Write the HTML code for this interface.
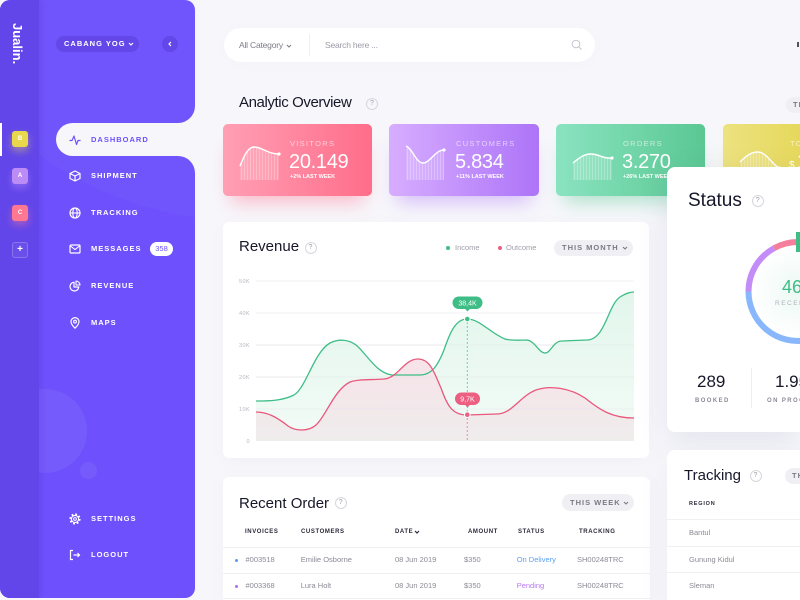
<!DOCTYPE html>
<html><head><meta charset="utf-8">
<style>
*{margin:0;padding:0;box-sizing:border-box}
html,body{width:800px;height:600px;overflow:hidden}
body{position:relative;background:#f7f7fb;font-family:"Liberation Sans",sans-serif;}
#root{position:absolute;left:0;top:0;width:800px;height:600px;overflow:hidden;background:#f7f7fb}
.a{position:absolute}
.t{position:absolute;white-space:nowrap;line-height:1}
.m{position:absolute;white-space:nowrap;line-height:1;font-size:7.5px;font-weight:bold;letter-spacing:1px;color:#fff;left:91px}
.q{position:absolute;width:12px;height:12px;border:1px solid #d6d6de;border-radius:50%;font-size:7px;color:#9a9aa6;text-align:center;line-height:10px}
.card{position:absolute;top:124px;height:72px;border-radius:5px}
.lbl{position:absolute;left:67px;top:16px;font-size:7.5px;letter-spacing:1.3px;color:rgba(255,255,255,0.62);white-space:nowrap;line-height:1}
.val{position:absolute;left:66px;top:28px;font-size:20px;color:#fff;white-space:nowrap;line-height:1;letter-spacing:-0.3px}
.sub{position:absolute;left:67px;top:51px;font-size:5.5px;font-weight:bold;color:#fff;white-space:nowrap;line-height:1}
.mini{position:absolute;left:15px;top:14px}
.th{position:absolute;font-size:6px;font-weight:bold;letter-spacing:0.6px;color:#2a2a3a;white-space:nowrap;line-height:1;top:529px}
.td{position:absolute;font-size:7.5px;color:#8a8a96;white-space:nowrap;line-height:1}
.pill{position:absolute;height:17px;border-radius:9px;background:#f0f0f4;font-size:7.5px;font-weight:bold;letter-spacing:1px;color:#7a7a86;line-height:17px;white-space:nowrap}
.h{position:absolute;white-space:nowrap;line-height:1;font-size:15px;color:#17172a}
.sq{position:absolute;left:12px;width:16px;height:16px;border-radius:3px;color:#fff;font-size:6px;font-weight:bold;text-align:center;line-height:16px}
</style></head><body>
<div id="root">

<svg width="0" height="0" style="position:absolute">
<defs>
<pattern id="st" width="3" height="4" patternUnits="userSpaceOnUse"><rect width="1" height="4" fill="rgba(255,255,255,0.25)"/></pattern>
</defs>
</svg>

<!-- SIDEBAR -->
<div class="a" style="left:0;top:0;width:195px;height:598px;border-radius:10px;background:#6e51fc;overflow:hidden">
  <div class="a" style="left:160px;top:100px;width:40px;height:80px;background:#f7f7fb"></div>
  <div class="a" style="left:100px;top:40px;width:95px;height:83px;background:#6e51fc;border-bottom-right-radius:17px"></div>
  <div class="a" style="left:100px;top:156px;width:95px;height:80px;background:#6e51fc;border-top-right-radius:17px"></div>
  <div class="a" style="left:-100px;top:-460px;width:680px;height:680px;border-radius:50%;background:rgba(255,255,255,0.022)"></div>
  <div class="a" style="left:3px;top:389px;width:84px;height:84px;border-radius:50%;background:rgba(255,255,255,0.06)"></div>
  <div class="a" style="left:80px;top:462px;width:17px;height:17px;border-radius:50%;background:rgba(255,255,255,0.06)"></div>
  <div class="a" style="left:56px;top:123px;width:139px;height:33px;border-radius:16.5px 0 0 16.5px;background:#f7f7fb"></div>
  <div class="a" style="left:0;top:0;width:39px;height:598px;background:#6246ea;box-shadow:2px 0 6px rgba(40,20,140,0.12)"></div>
  <div class="a" style="left:0;top:123px;width:2px;height:33px;background:#fff"></div>
</div>

<div class="t" style="left:11px;top:23px;writing-mode:vertical-rl;font-size:13px;font-weight:bold;color:#fff;line-height:13px">Jualin.</div>

<div class="sq" style="top:131px;background:#e9d84c;box-shadow:0 4px 8px rgba(233,216,76,0.45)">B</div>
<div class="sq" style="top:168px;background:#bc8cf6;box-shadow:0 4px 8px rgba(188,140,246,0.45)">A</div>
<div class="sq" style="top:205px;background:#ff7892;box-shadow:0 4px 8px rgba(255,120,146,0.45)">C</div>
<div class="sq" style="top:242px;border:1px solid rgba(255,255,255,0.22);background:rgba(255,255,255,0.05);font-size:10px;line-height:14px">+</div>

<div class="a" style="left:56px;top:36px;width:83px;height:16px;border-radius:8px;background:#6347e9"></div>
<div class="m" style="left:64px;top:40.3px">CABANG YOG</div>
<svg class="a" style="left:128px;top:41px" width="6" height="6"><polyline points="1,2 3,4 5,2" fill="none" stroke="#fff" stroke-width="1.1"/></svg>
<div class="a" style="left:162px;top:36px;width:16px;height:16px;border-radius:50%;background:#6347e9"></div>
<svg class="a" style="left:167px;top:41px" width="6" height="6"><polyline points="4,1 2,3 4,5" fill="none" stroke="#fff" stroke-width="1.1"/></svg>

<!-- menu icons -->
<svg class="a" style="left:69px;top:133.5px" width="12" height="12"><polyline points="0.5,6.5 3,6.5 5,2 7.5,10.5 9,6.5 11.5,6.5" fill="none" stroke="#6e51fc" stroke-width="1.2" stroke-linejoin="round"/></svg>
<div class="m" style="top:135.8px;color:#6e51fc">DASHBOARD</div>

<svg class="a" style="left:69px;top:170px" width="12" height="12"><path d="M6,1 L11,3.5 L11,8.5 L6,11 L1,8.5 L1,3.5Z M1,3.5 L6,6 L11,3.5 M6,6 L6,11" fill="none" stroke="#fff" stroke-width="1.2" stroke-linejoin="round"/></svg>
<div class="m" style="top:172.3px">SHIPMENT</div>

<svg class="a" style="left:69px;top:206.5px" width="12" height="12"><circle cx="6" cy="6" r="5" fill="none" stroke="#fff" stroke-width="1.2"/><ellipse cx="6" cy="6" rx="2.2" ry="5" fill="none" stroke="#fff" stroke-width="1.1"/><line x1="1" y1="6" x2="11" y2="6" stroke="#fff" stroke-width="1.1"/></svg>
<div class="m" style="top:208.8px">TRACKING</div>

<svg class="a" style="left:69px;top:243px" width="12" height="12"><rect x="1" y="2" width="10" height="8" rx="1" fill="none" stroke="#fff" stroke-width="1.2"/><polyline points="1.5,3 6,6.5 10.5,3" fill="none" stroke="#fff" stroke-width="1.1"/></svg>
<div class="m" style="top:245.3px">MESSAGES</div>
<div class="a" style="left:150px;top:242px;width:23px;height:14px;border-radius:7px;background:#fff;color:#6e51fc;font-size:7.5px;text-align:center;line-height:14px">358</div>

<svg class="a" style="left:69px;top:280px" width="12" height="12"><path d="M5,2.2 A4.4,4.4 0 1 0 9.8,7 L5,7Z" fill="none" stroke="#fff" stroke-width="1.2" stroke-linejoin="round"/><path d="M7,1 A4.2,4.2 0 0 1 11,5 L7,5Z" fill="none" stroke="#fff" stroke-width="1.1" stroke-linejoin="round"/></svg>
<div class="m" style="top:282.3px">REVENUE</div>

<svg class="a" style="left:69px;top:316.5px" width="12" height="12"><path d="M6,11.2 C6,11.2 2,7.2 2,4.6 A4,4 0 0 1 10,4.6 C10,7.2 6,11.2 6,11.2Z" fill="none" stroke="#fff" stroke-width="1.2"/><circle cx="6" cy="4.6" r="1.4" fill="none" stroke="#fff" stroke-width="1.1"/></svg>
<div class="m" style="top:318.8px">MAPS</div>

<svg class="a" style="left:69px;top:512.5px" width="12" height="12"><circle cx="6" cy="6" r="4.7" fill="none" stroke="#fff" stroke-width="1.8" stroke-dasharray="1.8 1.9"/><circle cx="6" cy="6" r="3.6" fill="none" stroke="#fff" stroke-width="1.1"/><circle cx="6" cy="6" r="1.4" fill="none" stroke="#fff" stroke-width="1"/></svg>
<div class="m" style="top:514.8px">SETTINGS</div>

<svg class="a" style="left:69px;top:549px" width="12" height="12"><path d="M4,1.5 L1.5,1.5 L1.5,10.5 L4,10.5" fill="none" stroke="#fff" stroke-width="1.2"/><path d="M4.5,6 L10.5,6 M8.5,4 L10.5,6 L8.5,8" fill="none" stroke="#fff" stroke-width="1.2"/></svg>
<div class="m" style="top:551.3px">LOGOUT</div>

<!-- SEARCH -->
<div class="a" style="left:224px;top:28px;width:371px;height:34px;border-radius:17px;background:#fff;box-shadow:0 2px 10px rgba(120,120,170,0.04)"></div>
<div class="t" style="left:239px;top:41px;font-size:8.5px;color:#7c7c88;letter-spacing:-0.2px">All Category</div>
<svg class="a" style="left:286px;top:42.5px" width="6" height="6"><polyline points="1,2 3,4 5,2" fill="none" stroke="#7c7c88" stroke-width="1"/></svg>
<div class="a" style="left:309px;top:34px;width:1px;height:22px;background:#efeff3"></div>
<div class="t" style="left:325px;top:41px;font-size:8.5px;color:#9a9aa6;letter-spacing:-0.2px">Search here ...</div>
<svg class="a" style="left:571px;top:39px" width="12" height="12"><circle cx="5" cy="5" r="3.8" fill="none" stroke="#c4c4cc" stroke-width="1"/><line x1="7.8" y1="7.8" x2="10.5" y2="10.5" stroke="#c4c4cc" stroke-width="1"/></svg>
<div class="a" style="left:797px;top:42px;width:2px;height:5px;background:#555"></div>

<!-- ANALYTIC OVERVIEW -->
<div class="h" style="left:239px;top:95px;letter-spacing:-0.4px">Analytic Overview</div>
<div class="q" style="left:366px;top:98px">?</div>
<div class="pill" style="left:786px;top:97px;width:14px;height:16px;line-height:16px;padding-left:7px;border-radius:8px 0 0 8px;overflow:hidden">THIS</div>

<div class="card" style="left:223px;width:149px;background:linear-gradient(90deg,#ff9fb4,#ff6d8a);box-shadow:0 14px 18px -8px rgba(255,109,138,0.45)">
  <svg class="mini" width="44" height="44"><path d="M2,28 C6,18 10,9 16,9 C24,9 30,16 41,16 L41,42 L2,42Z" fill="rgba(255,255,255,0.15)"/><path d="M2,28 C6,18 10,9 16,9 C24,9 30,16 41,16 L41,42 L2,42Z" fill="url(#st)"/><path d="M2,28 C6,18 10,9 16,9 C24,9 30,16 41,16" fill="none" stroke="#fff" stroke-width="1.4"/><circle cx="41" cy="16" r="1.6" fill="#fff"/></svg>
  <div class="lbl">VISITORS</div>
  <div class="val">20.149</div>
  <div class="sub">+2% LAST WEEK</div>
</div>
<div class="card" style="left:389px;width:150px;background:linear-gradient(90deg,#d7adff,#ad74f8);box-shadow:0 14px 18px -8px rgba(173,116,248,0.45)">
  <svg class="mini" width="44" height="44"><path d="M2,8 C8,10 12,25 19,25 C26,25 31,12 40,12 L40,42 L2,42Z" fill="rgba(255,255,255,0.15)"/><path d="M2,8 C8,10 12,25 19,25 C26,25 31,12 40,12 L40,42 L2,42Z" fill="url(#st)"/><path d="M2,8 C8,10 12,25 19,25 C26,25 31,12 40,12" fill="none" stroke="#fff" stroke-width="1.4"/><circle cx="40" cy="12" r="1.6" fill="#fff"/></svg>
  <div class="lbl">CUSTOMERS</div>
  <div class="val">5.834</div>
  <div class="sub">+11% LAST WEEK</div>
</div>
<div class="card" style="left:556px;width:149px;background:linear-gradient(90deg,#8ae3c0,#5ac893);box-shadow:0 14px 18px -8px rgba(90,200,147,0.45)">
  <svg class="mini" width="44" height="44"><path d="M2,25 C8,20 13,16 20,16 C28,16 32,21 41,20 L41,42 L2,42Z" fill="rgba(255,255,255,0.15)"/><path d="M2,25 C8,20 13,16 20,16 C28,16 32,21 41,20 L41,42 L2,42Z" fill="url(#st)"/><path d="M2,25 C8,20 13,16 20,16 C28,16 32,21 41,20" fill="none" stroke="#fff" stroke-width="1.4"/><circle cx="41" cy="20" r="1.6" fill="#fff"/></svg>
  <div class="lbl">ORDERS</div>
  <div class="val">3.270</div>
  <div class="sub">+26% LAST WEEK</div>
</div>
<div class="card" style="left:723px;width:77px;border-radius:5px 0 0 5px;overflow:hidden;background:linear-gradient(90deg,#ece27f,#e6d85c);box-shadow:0 14px 18px -8px rgba(226,208,74,0.45)">
  <svg class="mini" width="44" height="44"><path d="M2,24 C8,18 13,14 20,14 C28,14 34,26 41,30 L41,42 L2,42Z" fill="rgba(255,255,255,0.15)"/><path d="M2,24 C8,18 13,14 20,14 C28,14 34,26 41,30 L41,42 L2,42Z" fill="url(#st)"/><path d="M2,24 C8,18 13,14 20,14 C28,14 34,26 41,30" fill="none" stroke="#fff" stroke-width="1.4"/><circle cx="41" cy="30" r="1.6" fill="#fff"/></svg>
  <div class="lbl">TOTAL</div>
  <div class="val"><span style="font-size:10px">$ </span>12.5K</div>
</div>

<!-- REVENUE CARD -->
<div class="a" style="left:223px;top:222px;width:426px;height:236px;border-radius:6px;background:#fff;box-shadow:0 4px 16px rgba(100,100,150,0.05)"></div>
<div class="h" style="left:239px;top:239px">Revenue</div>
<div class="q" style="left:304.5px;top:241.5px">?</div>
<div class="a" style="left:446px;top:246px;width:4px;height:4px;border-radius:50%;background:#3ebd86"></div>
<div class="t" style="left:455px;top:244.3px;font-size:7.5px;color:#a0a0aa">Income</div>
<div class="a" style="left:497.5px;top:246px;width:4px;height:4px;border-radius:50%;background:#ec5f80"></div>
<div class="t" style="left:506px;top:244.3px;font-size:7.5px;color:#a0a0aa">Outcome</div>
<div class="pill" style="left:554px;top:240px;width:79px;height:16px;line-height:16px;padding-left:8px">THIS MONTH</div>
<svg class="a" style="left:622px;top:245px" width="6" height="6"><polyline points="1,2 3,4 5,2" fill="none" stroke="#7a7a86" stroke-width="1.1"/></svg>

<svg class="a" style="left:0;top:0" width="800" height="600">
<defs>
<linearGradient id="gi" x1="0" y1="0" x2="0" y2="1"><stop offset="0" stop-color="#e2f6ec"/><stop offset="1" stop-color="#f3fbf7"/></linearGradient>
<linearGradient id="go" x1="0" y1="0" x2="0" y2="1"><stop offset="0" stop-color="#f7e3e9"/><stop offset="1" stop-color="#efecec"/></linearGradient>
</defs>
<g stroke="#f0f0f4" stroke-width="1">
<line x1="256" y1="281" x2="634" y2="281"/>
<line x1="256" y1="313" x2="634" y2="313"/>
<line x1="256" y1="345" x2="634" y2="345"/>
<line x1="256" y1="377" x2="634" y2="377"/>
<line x1="256" y1="409" x2="634" y2="409"/>
</g>
<g font-family="Liberation Sans" font-size="5.5" fill="#b8b8c2" text-anchor="end" letter-spacing="0.4">
<text x="250" y="283">50K</text><text x="250" y="315">40K</text><text x="250" y="347">30K</text><text x="250" y="379">20K</text><text x="250" y="411">10K</text><text x="250" y="443">0</text>
</g>
<path d="M256,401 C268,401 282,401 294,395 C306,388 314,352 330,343 C338,339 348,339 356,345 C366,353 376,373 392,375 L420,375 C432,375 438,365 444,350 C450,332 456,319 467,319 C480,319 490,333 505,339 C512,341 520,340 527,340 C535,341 539,353 545,353 C551,353 553,341 562,341 L587,340 C605,340 608,305 620,297 C625,294 629,292 634,292 L634,441 L256,441Z" fill="url(#gi)"/>
<path d="M256,412 C268,412 278,418 288,426 C295,431 308,432 316,425 C326,416 334,390 350,382 C358,379 370,380 384,379 C398,378 404,359 418,359 C430,359 434,372 441,388 C447,405 452,415 467,415 L497,414 C512,414 520,396 536,390 C550,385 570,388 585,398 C600,410 612,418 634,418 L634,441 L256,441Z" fill="url(#go)"/>
<g stroke="rgba(220,220,228,0.35)" stroke-width="1">
<line x1="256" y1="345" x2="634" y2="345"/><line x1="256" y1="377" x2="634" y2="377"/><line x1="256" y1="409" x2="634" y2="409"/>
</g>
<line x1="467.3" y1="322" x2="467.3" y2="412" stroke="#72d1a6" stroke-width="1" stroke-dasharray="2 2"/>
<line x1="467.3" y1="418" x2="467.3" y2="442" stroke="#f08aa3" stroke-width="1" stroke-dasharray="2 2"/>
<path d="M256,401 C268,401 282,401 294,395 C306,388 314,352 330,343 C338,339 348,339 356,345 C366,353 376,373 392,375 L420,375 C432,375 438,365 444,350 C450,332 456,319 467,319 C480,319 490,333 505,339 C512,341 520,340 527,340 C535,341 539,353 545,353 C551,353 553,341 562,341 L587,340 C605,340 608,305 620,297 C625,294 629,292 634,292" fill="none" stroke="#3ebd86" stroke-width="1.3"/>
<path d="M256,412 C268,412 278,418 288,426 C295,431 308,432 316,425 C326,416 334,390 350,382 C358,379 370,380 384,379 C398,378 404,359 418,359 C430,359 434,372 441,388 C447,405 452,415 467,415 L497,414 C512,414 520,396 536,390 C550,385 570,388 585,398 C600,410 612,418 634,418" fill="none" stroke="#e9587c" stroke-width="1.3"/>
<circle cx="467.3" cy="319" r="2.8" fill="#3ebd86" stroke="#fff" stroke-width="1"/>
<circle cx="467.3" cy="414.7" r="2.8" fill="#ec5f80" stroke="#fff" stroke-width="1"/>
<rect x="452.5" y="296.5" width="30" height="12.5" rx="6.2" fill="#3ebd86"/>
<path d="M465,308.8 L467.5,311.5 L470,308.8Z" fill="#3ebd86"/>
<text x="467.5" y="305.5" font-family="Liberation Sans" font-size="7" fill="#fff" text-anchor="middle">38,4K</text>
<rect x="455" y="392.5" width="25" height="12.5" rx="6.2" fill="#ec5f80"/>
<path d="M465,404.8 L467.5,407.5 L470,404.8Z" fill="#ec5f80"/>
<text x="467.5" y="401.5" font-family="Liberation Sans" font-size="7" fill="#fff" text-anchor="middle">9,7K</text>
</svg>

<!-- RECENT ORDER -->
<div class="a" style="left:223px;top:477px;width:427px;height:123px;border-radius:6px 6px 0 0;background:#fff;box-shadow:0 4px 16px rgba(100,100,150,0.05)"></div>
<div class="h" style="left:239px;top:496px">Recent Order</div>
<div class="q" style="left:334.7px;top:497.3px">?</div>
<div class="pill" style="left:562px;top:494px;width:72px;padding-left:8px">THIS WEEK</div>
<svg class="a" style="left:623px;top:499.5px" width="6" height="6"><polyline points="1,2 3,4 5,2" fill="none" stroke="#7a7a86" stroke-width="1.1"/></svg>
<div class="th" style="left:245px">INVOICES</div>
<div class="th" style="left:301px">CUSTOMERS</div>
<div class="th" style="left:395px">DATE</div>
<svg class="a" style="left:414px;top:529px" width="6" height="6"><polyline points="1,2 3,4 5,2" fill="none" stroke="#2a2a3a" stroke-width="1.2"/></svg>
<div class="th" style="left:468px">AMOUNT</div>
<div class="th" style="left:518px">STATUS</div>
<div class="th" style="left:579px">TRACKING</div>
<div class="a" style="left:223px;top:546.5px;width:427px;height:1px;background:#f0f0f4"></div>
<div class="a" style="left:223px;top:572.5px;width:427px;height:1px;background:#f0f0f4"></div>
<div class="a" style="left:223px;top:598px;width:427px;height:1px;background:#f0f0f4"></div>

<div class="a" style="left:234.5px;top:558.5px;width:3px;height:3px;border-radius:50%;background:#5b9cf2"></div>
<div class="td" style="left:245.5px;top:556.3px">#003518</div>
<div class="td" style="left:300.7px;top:556.3px">Emilie Osborne</div>
<div class="td" style="left:395px;top:556.3px">08 Jun 2019</div>
<div class="td" style="left:464px;top:556.3px">$350</div>
<div class="td" style="left:516.7px;top:556.3px;color:#5d9ff2">On Delivery</div>
<div class="td" style="left:577px;top:556.3px">SH00248TRC</div>

<div class="a" style="left:234.5px;top:584.5px;width:3px;height:3px;border-radius:50%;background:#b26ff0"></div>
<div class="td" style="left:245.5px;top:582.3px">#003368</div>
<div class="td" style="left:300.7px;top:582.3px">Lura Holt</div>
<div class="td" style="left:395px;top:582.3px">08 Jun 2019</div>
<div class="td" style="left:464px;top:582.3px">$350</div>
<div class="td" style="left:516.7px;top:582.3px;color:#b478f0">Pending</div>
<div class="td" style="left:577px;top:582.3px">SH00248TRC</div>

<!-- STATUS CARD -->
<div class="a" style="left:667px;top:167px;width:133px;height:265px;border-radius:8px 0 0 8px;background:#fff;box-shadow:0 8px 30px rgba(90,90,140,0.12)"></div>
<div class="t" style="left:688px;top:190.5px;font-size:19px;color:#17172a">Status</div>
<div class="q" style="left:751.7px;top:194.7px">?</div>
<svg class="a" style="left:0;top:0" width="800" height="600">
<defs><radialGradient id="glow" cx="798" cy="291.5" r="46" gradientUnits="userSpaceOnUse"><stop offset="0" stop-color="rgba(62,189,134,0.10)"/><stop offset="1" stop-color="rgba(62,189,134,0)"/></radialGradient></defs>
<circle cx="798" cy="291.5" r="46" fill="url(#glow)"/>
<path d="M806.6,340.2 A49.5,49.5 0 0 1 748.5,291.5" stroke="#88b8fb" stroke-width="6" fill="none"/>
<path d="M748.5,291.5 A49.5,49.5 0 0 1 774,248.2" stroke="#c48cf6" stroke-width="6" fill="none"/>
<path d="M774,248.2 A49.5,49.5 0 0 1 798,242" stroke="#f47e9c" stroke-width="6" fill="none"/>
<rect x="796" y="232" width="6" height="20" fill="#3ebd86"/>
</svg>
<div class="a" style="left:667px;top:270px;width:133px;height:150px;overflow:hidden">
  <div class="t" style="left:115px;top:7.6px;font-size:18px;color:#3ebd86">46</div>
  <div class="t" style="left:108px;top:30.8px;font-size:6.5px;letter-spacing:1.5px;color:#b0b0ba">RECEIVED</div>
  <div class="t" style="left:30px;top:102.8px;font-size:17px;color:#17172a">289</div>
  <div class="t" style="left:28px;top:128px;font-size:6px;font-weight:bold;letter-spacing:1.4px;color:#8a8a96">BOOKED</div>
  <div class="a" style="left:84px;top:98px;width:1px;height:40px;background:#eeeef2"></div>
  <div class="t" style="left:108px;top:102.8px;font-size:17px;color:#17172a">1.950</div>
  <div class="t" style="left:100px;top:128px;font-size:6px;font-weight:bold;letter-spacing:1.4px;color:#8a8a96">ON PROCESS</div>
</div>

<!-- TRACKING CARD -->
<div class="a" style="left:667px;top:450px;width:133px;height:150px;border-radius:8px 0 0 0;background:#fff;box-shadow:0 8px 30px rgba(90,90,140,0.08)"></div>
<div class="h" style="left:684px;top:467.5px">Tracking</div>
<div class="q" style="left:749.5px;top:470px">?</div>
<div class="pill" style="left:785px;top:468px;width:15px;height:16px;line-height:16px;padding-left:7px;border-radius:8px 0 0 8px;overflow:hidden">TH</div>
<div class="t" style="left:689px;top:502.2px;font-size:5.5px;font-weight:bold;letter-spacing:0.8px;color:#2a2a3a">REGION</div>
<div class="a" style="left:667px;top:519px;width:133px;height:1px;background:#f0f0f4"></div>
<div class="a" style="left:667px;top:545.5px;width:133px;height:1px;background:#f0f0f4"></div>
<div class="a" style="left:667px;top:572px;width:133px;height:1px;background:#f0f0f4"></div>
<div class="td" style="left:689px;top:529.3px">Bantul</div>
<div class="td" style="left:689px;top:555.5px">Gunung Kidul</div>
<div class="td" style="left:689px;top:582px">Sleman</div>

</div>
</body></html>
